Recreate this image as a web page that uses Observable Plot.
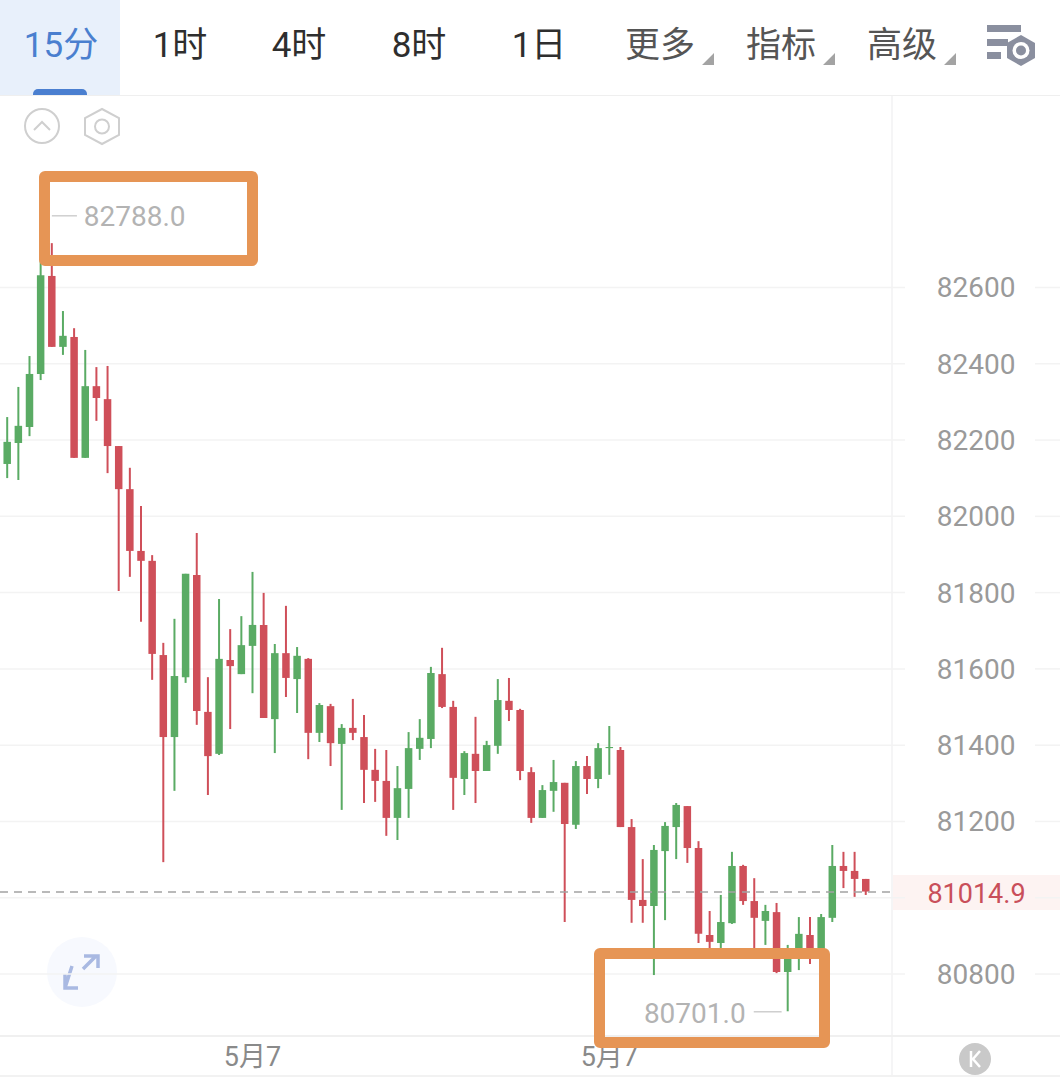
<!DOCTYPE html>
<html lang="zh">
<head>
<meta charset="utf-8">
<script src="https://cdn.jsdelivr.net/npm/d3@7"></script>
<script src="https://cdn.jsdelivr.net/npm/@observablehq/plot@0.6"></script>
<style>
html,body{margin:0;padding:0;background:#fff;width:1060px;height:1084px;overflow:hidden}
#page{position:relative;width:1060px;height:1084px;font-family:Roboto,"Noto Sans CJK SC",sans-serif}
.abs{position:absolute}
.tab{position:absolute;top:21px;height:50px;line-height:50px;width:110px;text-align:center;font-size:35px;color:#2e2e2e;white-space:nowrap}
.tab.more{color:#555}
.box{position:absolute;box-sizing:border-box;border:11.5px solid #e69555;border-radius:6px;z-index:5}
svg.deco{position:absolute;left:0;top:0;overflow:visible}
</style>
</head>
<body>
<div id="page">
  <div class="abs" style="left:0;top:0;width:120px;height:95px;background:#e8f0fb"></div>
  <div class="abs" style="left:33px;top:89px;width:54px;height:6px;background:#4a7fd0;border-radius:5px 5px 0 0"></div>
  <div class="abs" style="left:0;top:95px;width:1060px;height:1px;background:#efefef"></div>
  <div class="abs" style="left:891px;top:96px;width:2px;height:979px;background:#f5f5f6"></div>
  <div class="abs" style="left:0;top:1035px;width:1060px;height:2px;background:#f0f0f0"></div>
  <div class="abs" style="left:0;top:1075px;width:1060px;height:2px;background:#f2f2f2"></div>
  <div class="abs" style="left:893px;top:875px;width:167px;height:35px;background:#fdf3f2"></div>
  <div id="tabs"></div>
  <svg class="deco" width="1060" height="1084">
    <circle cx="42" cy="126" r="17" fill="none" stroke="#cfcfcf" stroke-width="2"/>
    <path d="M34 130 L42 122 L50 130" fill="none" stroke="#cfcfcf" stroke-width="2"/>
    <path d="M102 109 L119 118 L119 135 L102 144 L85 135 L85 118 Z" fill="none" stroke="#cfcfcf" stroke-width="2"/>
    <circle cx="102" cy="126.500" r="7" fill="none" stroke="#cfcfcf" stroke-width="2"/>
    <path d="M702 65 L714 53 L714 65 Z M823 65 L835 53 L835 65 Z M944 65 L956 53 L956 65 Z" fill="#a3a3a3"/>
    <path d="M987 25 H1021 V32 H987 Z M987 39 H1008 V46 H987 Z M987 52 H1001 V59 H987 Z" fill="#8a8f9f"/>
    <path d="M1021 35 L1035 43 L1035 58 L1021 66 L1007 58 L1007 43 Z" fill="#8a8f9f"/>
    <circle cx="1021" cy="50.500" r="8.500" fill="#fff"/>
    <circle cx="1021" cy="50.500" r="5" fill="#8a8f9f"/>
    <circle cx="82" cy="972" r="35" fill="#f7f9fe"/>
    <path d="M72 966 L65 988 M65 974 L65 988 L78 988 M83 969 L96 956 M84 956 L98 956 L98 968" fill="none" stroke="#a9b9e2" stroke-width="3.500"/>
    <circle cx="975" cy="1059" r="16" fill="#c9c9c9"/>
    <path d="M971 1051 V1067 M980 1051 L973 1059 L980 1067" fill="none" stroke="#fff" stroke-width="2.500"/>
  </svg>
  <div id="chart" class="abs" style="left:0;top:96px"></div>
  <div class="box" style="left:39px;top:171px;width:219px;height:95px"></div>
  <div class="box" style="left:594px;top:948px;width:236px;height:100px"></div>
</div>
<script>
// Toolbar labels
const tabLabels = ["15分","1时","4时","8时","1日","更多","指标","高级"];
const tabCenters = [61,180,299,419,539,660,781,902];

// Chart values (15-minute candles)
const open = [
82136,82191,82233,82372,82629,82443,82469,82152,82340,82306,
82183,82070,81908,81882,81635,81420,81577,81845,81486,81376,
81622,81585,81659,81714,81467,81640,81572,81625,81431,81501,
81402,81444,81420,81334,81305,81208,81284,81389,81415,81585,
81499,81310,81376,81331,81397,81515,81491,81328,81208,81279,
81300,81190,81344,81310,81391,81386,81184,80993,80977,81121,
81184,81239,81129,80901,80880,80932,81082,80990,80938,80961,
80804,80849,80901,80862,80946,81082,81069,81048];
const close = [
82194,82236,82372,82631,82443,82472,82152,82340,82309,82183,
82070,81908,81882,81638,81420,81580,81848,81488,81370,81625,
81606,81661,81714,81470,81640,81575,81633,81431,81504,81404,
81444,81431,81334,81305,81208,81286,81391,81418,81588,81499,
81313,81378,81331,81399,81517,81491,81331,81208,81281,81302,
81192,81344,81310,81391,81394,81184,80993,80977,81124,81187,
81242,81129,80904,80883,80935,81082,80990,80946,80964,80804,
80841,80904,80849,80948,81082,81069,81048,81014.9];
const high = [
82259,82338,82419,82676,82715,82537,82492,82435,82390,82393,
82183,82126,82026,81897,81667,81730,81848,81955,81577,81782,
81703,81737,81853,81798,81664,81764,81656,81627,81509,81507,
81454,81520,81478,81389,81386,81344,81433,81467,81604,81654,
81515,81383,81473,81410,81572,81575,81494,81341,81294,81360,
81300,81357,81370,81404,81449,81394,81205,81100,81137,81197,
81247,81239,81147,80964,81006,81119,81085,81050,80980,80985,
80875,80948,80948,80956,81137,81119,81119,81048];
const low = [
82099,82094,82209,82356,82443,82422,82152,82152,82249,82112,
81803,81840,81722,81570,81092,81279,81562,81452,81268,81373,
81441,81585,81535,81470,81378,81525,81483,81362,81407,81344,
81229,81412,81247,81250,81161,81150,81208,81360,81391,81496,
81229,81268,81247,81331,81376,81462,81307,81195,81208,81224,
80935,81179,81271,81286,81321,81184,80933,80933,80796,80940,
81100,81090,80880,80862,80867,80930,80980,80862,80875,80801,
80701,80809,80825,80862,80935,81024,81001,81006];
const yTicks = [82600,82400,82200,82000,81800,81600,81400,81200,81000,80800];
const dateTicks = [22,54];
const dateLabel = "5月7";
const lastPrice = 81014.9;
const peak = {i:4, value:82788.0};
const trough = {i:70, value:80701.0};

tabLabels.forEach((t,k)=>{
  const d=document.createElement("div");
  d.className="tab"+(k>=5?" more":"");
  d.textContent=t;
  d.style.left=(tabCenters[k]-55)+"px";
  if(k===0) d.style.color="#4a7fcf";
  document.getElementById("tabs").appendChild(d);
});

const candles = open.map((o,i)=>({i,open:o,close:close[i],high:high[i],low:low[i],dir:close[i]>=o?"up":"down"}));

const GREEN="#5aab64", RED="#cf4f59", GRID="#f3f3f3", LABEL="#9a9a9a", NOTE="#b3b3b3";
const pxToIdx = px => (px-6.7)/11.15;
const leftEnd = pxToIdx(0), rightEnd = pxToIdx(1060);
const axisGapStart = pxToIdx(905), axisGapEnd = pxToIdx(1035), plotEnd = pxToIdx(891);

const chart = Plot.plot({
  width:1060, height:988,
  marginLeft:0, marginRight:45, marginTop:0, marginBottom:49,
  style:{background:"transparent",fontFamily:'Roboto,"Noto Sans CJK SC",sans-serif'},
  x:{domain:[leftEnd,rightEnd],range:[0,1060],label:null},
  y:{domain:[80638.8,83100.8],label:null},
  color:{domain:["up","down"],range:[GREEN,RED]},
  marks:[
    Plot.ruleY(yTicks,{x1:leftEnd,x2:axisGapStart,stroke:GRID,strokeWidth:1.5}),
    Plot.ruleY(yTicks,{x1:axisGapEnd,x2:rightEnd,stroke:GRID,strokeWidth:1.5}),
    Plot.ruleX(candles,{x:"i",y1:"low",y2:"high",stroke:"dir",strokeWidth:2}),
    Plot.ruleX(candles,{x:"i",y1:"open",y2:"close",stroke:"dir",strokeWidth:7.5}),
    Plot.ruleY([lastPrice],{x1:leftEnd,x2:plotEnd,stroke:"#a3a3a3",strokeWidth:1.5,strokeDasharray:"8 6"}),
    Plot.axisY({anchor:"right",ticks:yTicks.filter(d=>d!==81000),tickFormat:d=>String(d),tickSize:0,tickPadding:0,textAnchor:"end",dy:1,fontSize:28,fill:LABEL,label:null}),
    Plot.axisX({anchor:"bottom",ticks:dateTicks,tickFormat:()=>dateLabel,tickSize:0,tickPadding:11,fontSize:27,fill:"#8a8a8a",label:null}),
    Plot.text([lastPrice],{y:d=>d,x:pxToIdx(976),dy:2,text:d=>d.toFixed(1),fill:"#c94f5a",fontSize:27}),
    Plot.ruleY([peak],{y:"value",x1:d=>d.i+0.05,x2:d=>d.i+2.3,stroke:"#cfcfcf",strokeWidth:1.5}),
    Plot.text([peak],{x:"i",y:"value",text:d=>d.value.toFixed(1),dx:32,dy:1,textAnchor:"start",fill:NOTE,fontSize:28}),
    Plot.ruleY([trough],{y:"value",x1:d=>d.i-0.5,x2:d=>d.i-3,stroke:"#cfcfcf",strokeWidth:1.5}),
    Plot.text([trough],{x:"i",y:"value",text:d=>d.value.toFixed(1),dx:-42,dy:2,textAnchor:"end",fill:NOTE,fontSize:28})
  ]
});
document.getElementById("chart").appendChild(chart);
</script>
</body>
</html>
